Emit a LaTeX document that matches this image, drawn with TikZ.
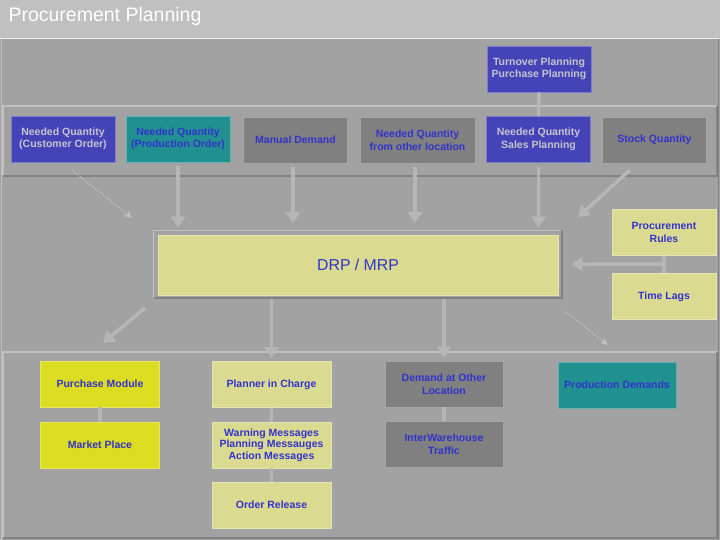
\documentclass[tikz,border=0pt]{standalone}
\usepackage{fontspec}
\setmainfont{Liberation Sans}
\usetikzlibrary{arrows.meta,positioning}
\definecolor{titlebg}{RGB}{192,192,192}
\definecolor{mainbg}{RGB}{162,162,162}
\definecolor{panelhi}{RGB}{192,192,192}
\definecolor{panello}{RGB}{130,130,130}
\definecolor{boxblue}{RGB}{68,68,184}
\definecolor{boxteal}{RGB}{32,144,144}
\definecolor{boxgray}{RGB}{128,128,128}
\definecolor{boxpale}{RGB}{218,218,144}
\definecolor{boxyellow}{RGB}{220,220,32}
\definecolor{txtblue}{RGB}{51,51,204}
\definecolor{txtlight}{RGB}{196,196,206}
\definecolor{arrowc}{RGB}{182,182,182}

\begin{document}
\begin{tikzpicture}[x=1pt,y=-1pt,
  box/.style={draw=#1!70!white, fill=#1, line width=0.8pt, minimum width=104pt,
    minimum height=46pt, inner sep=1pt, align=center, text=txtblue,
    font=\fontsize{10.5}{12.5}\selectfont\bfseries},
  wide/.style={minimum width=119pt},
  arr/.style={arrowc, line width=3.5pt, -{Triangle[width=14pt,length=11pt]}},
  dotarr/.style={arrowc!85!white, line width=1.3pt, dotted, -{Stealth[length=8pt,width=7pt]}},
  link/.style={arrowc, line width=3.5pt}]
  \useasboundingbox (0,0) rectangle (720,540);
  % Background and title bar
  \fill[titlebg] (0,0) rectangle (720,38);
  \fill[mainbg] (0,38) rectangle (720,540);
  \draw[white!85!gray, line width=1pt] (0,38.5) -- (720,38.5);
  \draw[panelhi, line width=1pt] (1.5,540) -- (1.5,39);
  \draw[panello, line width=1pt] (718.5,39) -- (718.5,540);
  \node[anchor=west, text=white, font=\fontsize{19.5}{22}\selectfont] (title) at (5,16.5) {Procurement Planning};
  % Panels
  \draw[panelhi, line width=1.5pt] (3,176) |- (717,106);
  \draw[panello, line width=1.5pt] (717,106) |- (3,176);
  \draw[panelhi, line width=1.5pt] (3,538) |- (717,352);
  \draw[panello, line width=1.5pt] (717,352) |- (3,538);
  % Demand sources
  \node[box=boxblue, text=txtlight] (turnover) at (539,69) {Turnover Planning\\Purchase Planning};
  \node[box=boxblue, text=txtlight] (customer) at (63,139) {Needed Quantity\\(Customer Order)};
  \node[box=boxteal] (production) at (178,139) {Needed Quantity\\(Production Order)};
  \node[box=boxgray] (manual) at (295.5,140) {Manual Demand};
  \node[box=boxgray, minimum width=115pt] (otherloc) at (417.5,140) {Needed Quantity\\from other location};
  \node[box=boxblue, text=txtlight] (sales) at (538.5,139.5) {Needed Quantity\\Sales Planning};
  \node[box=boxgray] (stock) at (654.5,140) {Stock Quantity};
  \draw[link] (turnover) -- (sales);
  % DRP / MRP
  \draw[panelhi, line width=1.5pt] (153.5,298) |- (562,230.5);
  \draw[panello, line width=1.5pt] (562,230.5) |- (153.5,298);
  \node[box=boxpale, minimum width=400pt, minimum height=60pt,
    font=\fontsize{15.8}{18}\selectfont] (drp) at (358,265) {DRP / MRP};
  \node[box=boxpale] (rules) at (664,232.5) {Procurement\\Rules};
  \node[box=boxpale] (lags) at (664,296.5) {Time Lags};
  % Into DRP
  \draw[arr, shorten <=4pt, shorten >=7pt] (production) -- (production |- drp.north);
  \draw[arr, shorten <=4pt, shorten >=7pt] (manual.south -| 293,0) -- (293,230);
  \draw[arr, shorten <=4pt, shorten >=7pt] (otherloc.south -| 415,0) -- (415,230);
  \draw[arr, shorten <=4pt, shorten >=7pt] (sales) -- (sales |- drp.north);
  \coordinate (custend) at (72,170);
  \coordinate (custtip) at (132,218);
  \draw[dotarr] (custend) -- (custtip);
  \coordinate (stockend) at (630,170);
  \coordinate (stocktip) at (578,217);
  \draw[arr] (stockend) -- (stocktip);
  \coordinate (rl) at (665,264);
  \draw[link] (rules) -- (lags);
  \draw[arr, shorten >=13pt] (rl) -- (drp);
  % Results
  \node[box=boxyellow, wide] (purchase) at (100,384) {Purchase Module};
  \node[box=boxyellow, wide] (market) at (100,445) {Market Place};
  \node[box=boxpale, wide] (planner) at (271.5,384.5) {Planner in Charge};
  \node[box=boxpale, wide, font=\fontsize{10.5}{11.5}\selectfont\bfseries] (messages) at (271.5,445) {Warning Messages\\Planning Messauges\\Action Messages};
  \node[box=boxpale, wide] (release) at (271.5,505) {Order Release};
  \node[box=boxgray, minimum width=118pt] (otherdem) at (444,384) {Demand at Other\\Location};
  \node[box=boxgray, minimum width=118pt] (interwh) at (444,444) {InterWarehouse\\Traffic};
  \node[box=boxteal, minimum width=118pt] (proddem) at (617,385) {Production Demands};
  \draw[link] (purchase) -- (market);
  \draw[link] (planner) -- (messages);
  \draw[link] (messages) -- (release);
  \draw[link] (otherdem) -- (interwh);
  % Out of DRP
  \draw[arr, shorten <=4pt, shorten >=3pt] (drp.south -| planner.north) -- (planner.north);
  \draw[arr, shorten <=4pt, shorten >=3pt] (drp.south -| otherdem.north) -- (otherdem.north);
  \coordinate (purchend) at (145,308);
  \coordinate (purchtip) at (103,343);
  \draw[arr] (purchend) -- (purchtip);
  \coordinate (prodend) at (566,312);
  \coordinate (prodtip) at (608,345);
  \draw[dotarr] (prodend) -- (prodtip);
\end{tikzpicture}
\end{document}
